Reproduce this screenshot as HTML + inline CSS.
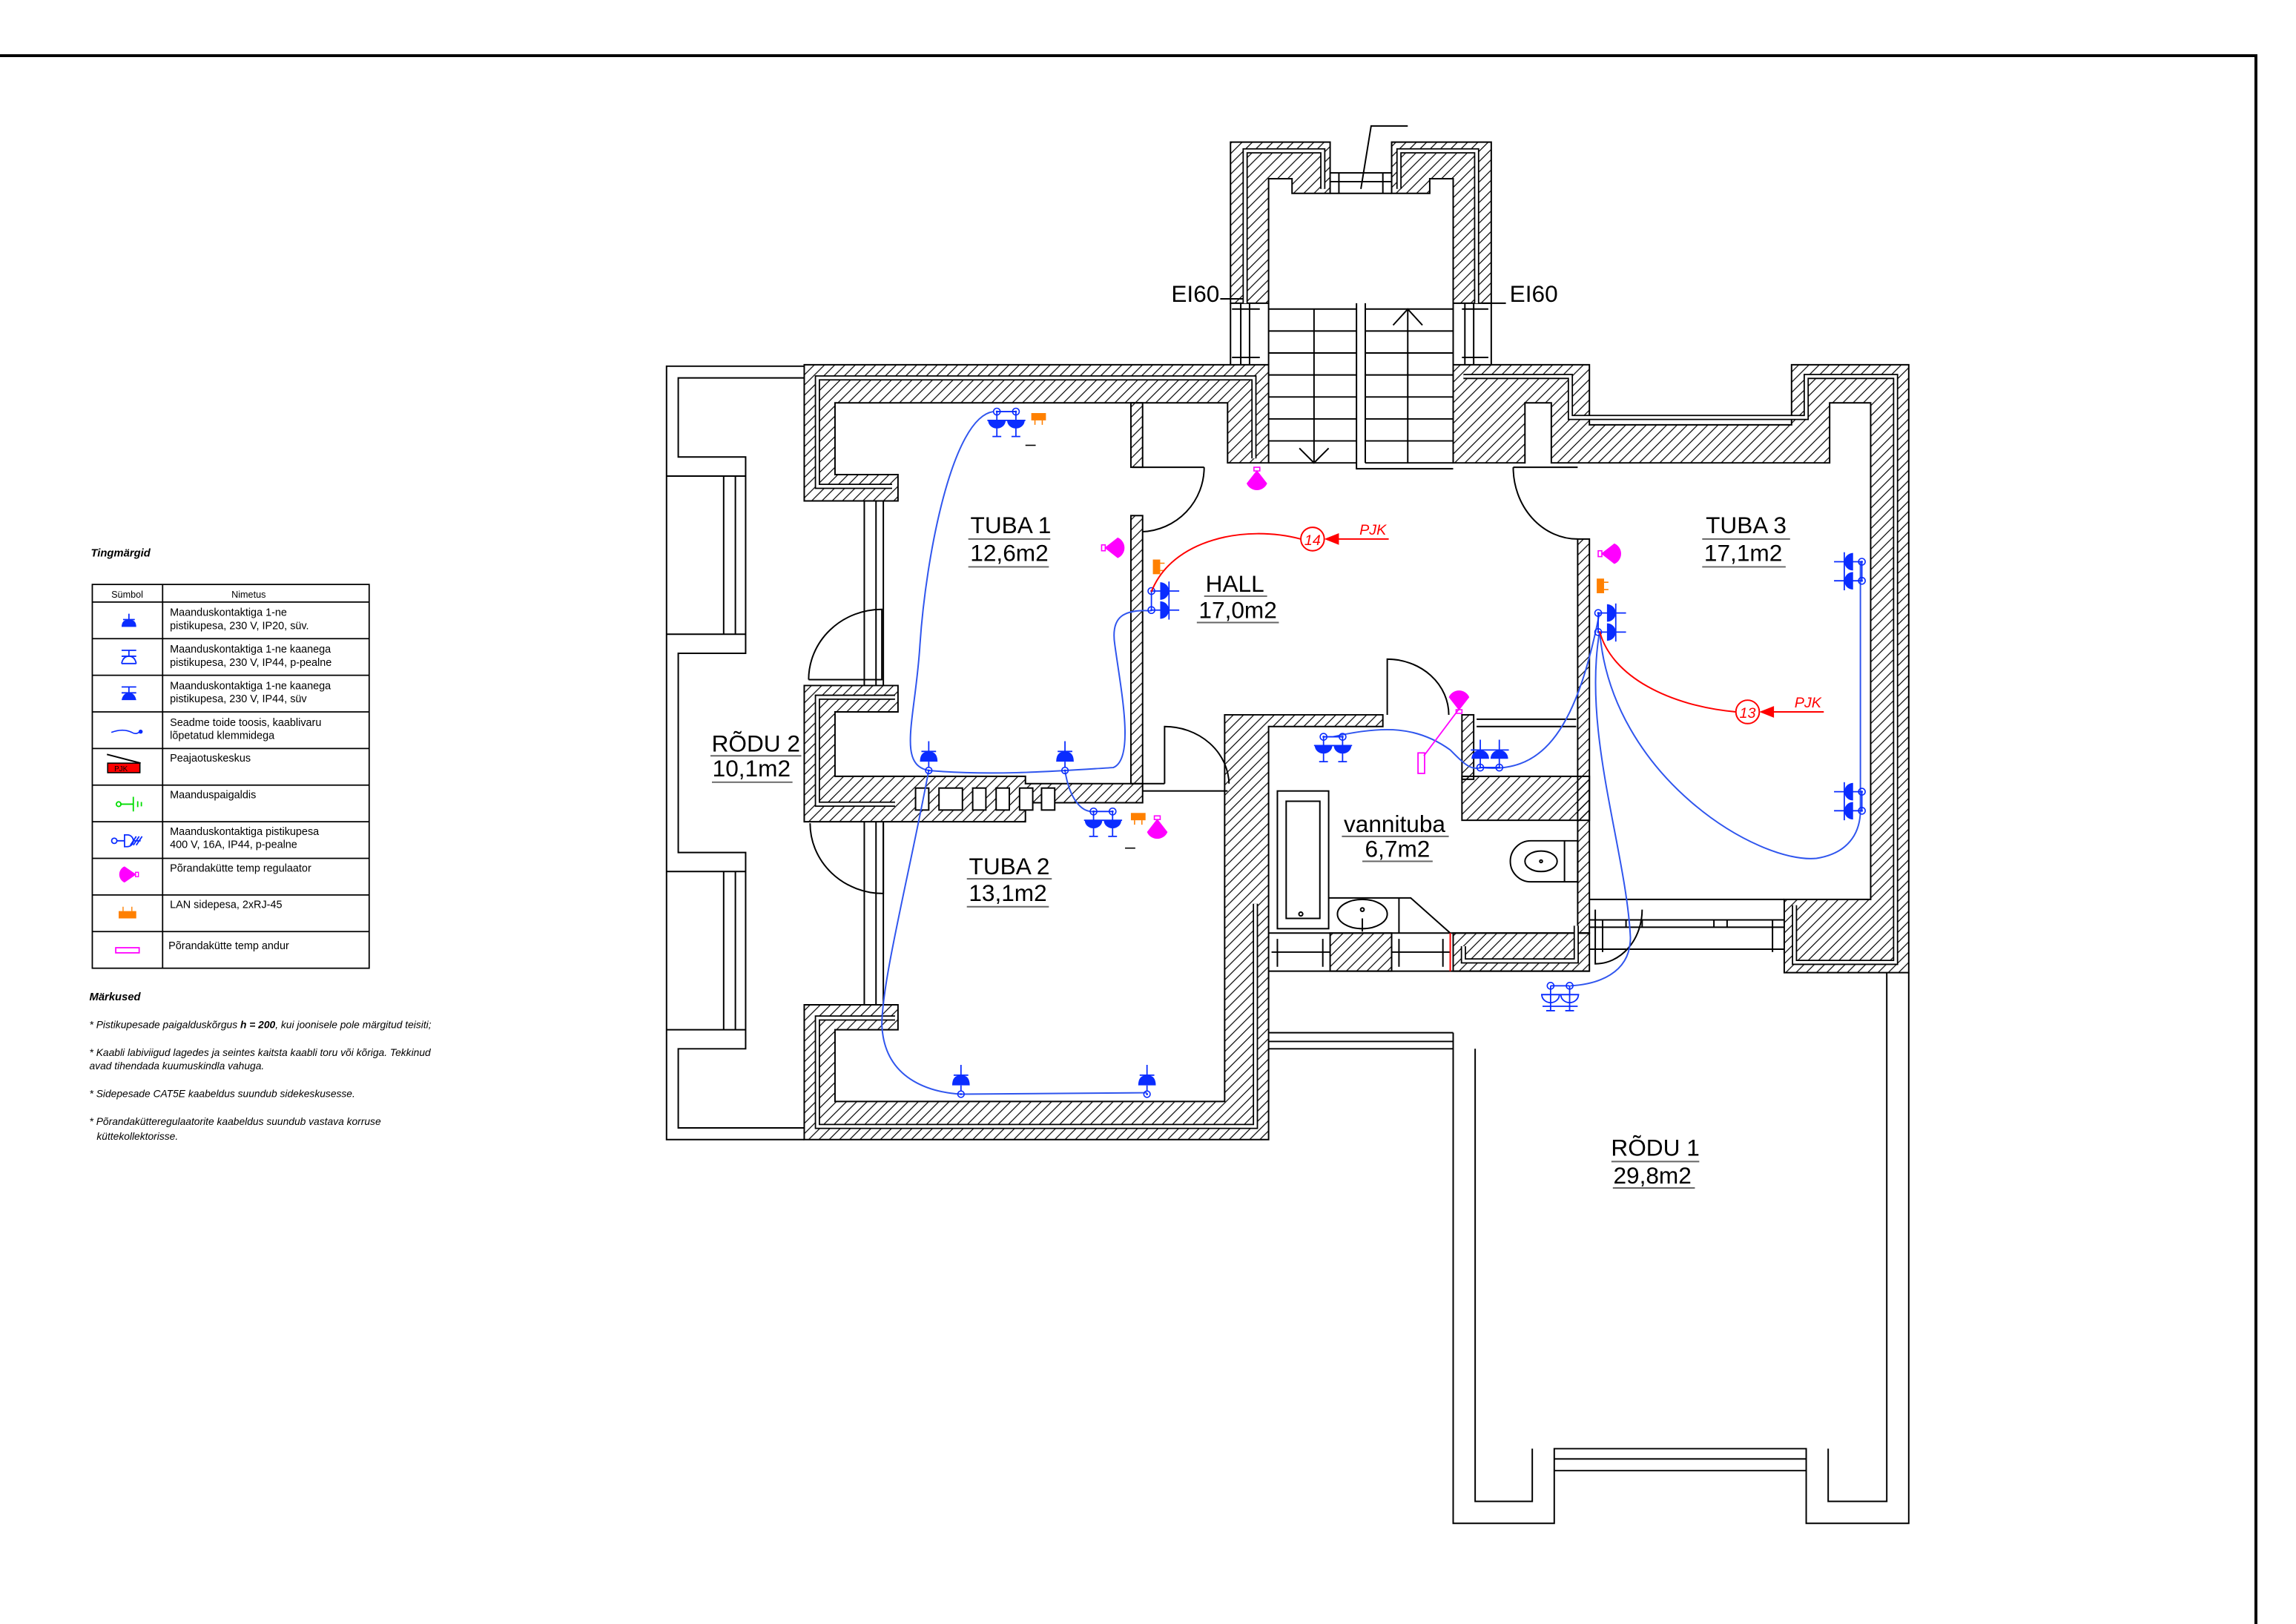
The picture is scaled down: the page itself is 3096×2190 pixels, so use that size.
<!DOCTYPE html>
<html><head><meta charset="utf-8"><style>
html,body{margin:0;padding:0;background:#fff;}
svg{display:block;}
text{font-family:"Liberation Sans",sans-serif;}
</style></head><body>
<svg width="3096" height="2190" viewBox="0 0 1567.35 1108.7" xmlns="http://www.w3.org/2000/svg">
<defs>
<pattern id="h" patternUnits="userSpaceOnUse" width="7" height="7">
<path d="M-1,1 l2,-2 M0,7 l7,-7 M6,8 l2,-2" stroke="#000" stroke-width="0.6"/>
</pattern>
<g id="ds">
<line x1="-6.5" y1="-9" x2="6.5" y2="-9" stroke="#0a2cff" stroke-width="0.9"/>
<circle cx="-6.5" cy="-9" r="2.3" fill="none" stroke="#0a2cff" stroke-width="0.8"/>
<circle cx="6.5" cy="-9" r="2.3" fill="none" stroke="#0a2cff" stroke-width="0.8"/>
<circle cx="-6.5" cy="-9" r="0.7" fill="#0a2cff"/><circle cx="6.5" cy="-9" r="0.7" fill="#0a2cff"/>
<line x1="-13" y1="-3" x2="13" y2="-3" stroke="#0a2cff" stroke-width="0.9"/>
<path d="M-12.5,-3 A6,5.5 0 0 0 -0.5,-3 Z M0.5,-3 A6,5.5 0 0 0 12.5,-3 Z" fill="#0a2cff"/>
<path d="M-6.5,-9 V8 M6.5,-9 V8 M-9.5,8 H-3.5 M3.5,8 H9.5" stroke="#0a2cff" stroke-width="0.9"/>
</g>
<g id="dso">
<line x1="-6.5" y1="-9" x2="6.5" y2="-9" stroke="#0a2cff" stroke-width="0.9"/>
<circle cx="-6.5" cy="-9" r="2.3" fill="none" stroke="#0a2cff" stroke-width="0.8"/>
<circle cx="6.5" cy="-9" r="2.3" fill="none" stroke="#0a2cff" stroke-width="0.8"/>
<line x1="-13" y1="-3" x2="13" y2="-3" stroke="#0a2cff" stroke-width="0.9"/>
<path d="M-12.5,-3 A6,5.5 0 0 0 -0.5,-3 Z M0.5,-3 A6,5.5 0 0 0 12.5,-3 Z" fill="none" stroke="#0a2cff" stroke-width="0.9"/>
<path d="M-6.5,-9 V8 M6.5,-9 V8 M-9.5,8 H-3.5 M3.5,8 H9.5 M-12,5 H12" stroke="#0a2cff" stroke-width="0.9"/>
</g>
<g id="dd">
<line x1="-6.5" y1="9" x2="6.5" y2="9" stroke="#0a2cff" stroke-width="0.9"/>
<circle cx="-6.5" cy="9" r="2.3" fill="none" stroke="#0a2cff" stroke-width="0.8"/>
<circle cx="6.5" cy="9" r="2.3" fill="none" stroke="#0a2cff" stroke-width="0.8"/>
<circle cx="-6.5" cy="9" r="0.7" fill="#0a2cff"/><circle cx="6.5" cy="9" r="0.7" fill="#0a2cff"/>
<line x1="-13" y1="-3" x2="13" y2="-3" stroke="#0a2cff" stroke-width="0.9"/>
<path d="M-12.5,3 A6,6 0 0 1 -0.5,3 Z M0.5,3 A6,6 0 0 1 12.5,3 Z" fill="#0a2cff"/>
<path d="M-6.5,9 V-10 M6.5,9 V-10" stroke="#0a2cff" stroke-width="0.9"/>
</g>
<g id="ss">
<path d="M0,-11 V-4 M-5,-4 H5" stroke="#0a2cff" stroke-width="0.9"/>
<path d="M-6,3 Q-6,-4 0,-4 Q6,-4 6,3 Z" fill="#0a2cff"/>
<line x1="0" y1="3" x2="0" y2="7" stroke="#0a2cff" stroke-width="0.9"/>
<circle cx="0" cy="9" r="2.2" fill="none" stroke="#0a2cff" stroke-width="0.8"/>
<circle cx="0" cy="9" r="0.7" fill="#0a2cff"/>
</g>
<g id="mg">
<path d="M0,8 L-7,-1 A7.6,7.6 0 0 1 7,-1 Z" fill="#ff00ff"/>
<rect x="-2" y="7.5" width="4" height="2.5" fill="none" stroke="#ff00ff" stroke-width="0.8"/>
</g>
<g id="lan">
<rect x="-5" y="-3" width="10" height="5" fill="#ff8000"/>
<path d="M-2.5,2 V5 M2.5,2 V5" stroke="#ff8000" stroke-width="0.8"/>
</g>
</defs>

<path d="M0,38 H1540 V1109" fill="none" stroke="#000" stroke-width="2"/>

<text x="62" y="380" font-size="7.5" font-weight="bold" font-style="italic">Tingmärgid</text>
<g stroke="#000" stroke-width="0.9" fill="none">
<rect x="63" y="399" width="189" height="262"/>
<line x1="111" y1="399" x2="111" y2="661"/>
<path d="M63,411 H252 M63,436 H252 M63,461 H252 M63,486 H252 M63,511 H252 M63,536 H252 M63,561 H252 M63,586 H252 M63,611 H252 M63,636 H252"/>
</g>
<g font-size="6.4">
<text x="76" y="408">Sümbol</text><text x="158" y="408">Nimetus</text>
<text x="116" y="420.5" font-size="7.3">Maanduskontaktiga 1-ne</text><text x="116" y="429.5" font-size="7.3">pistikupesa, 230 V, IP20, süv.</text>
<text x="116" y="445.5" font-size="7.3">Maanduskontaktiga 1-ne kaanega</text><text x="116" y="454.5" font-size="7.3">pistikupesa, 230 V, IP44, p-pealne</text>
<text x="116" y="470.5" font-size="7.3">Maanduskontaktiga 1-ne kaanega</text><text x="116" y="479.5" font-size="7.3">pistikupesa, 230 V, IP44, süv</text>
<text x="116" y="495.5" font-size="7.3">Seadme toide toosis, kaablivaru</text><text x="116" y="504.5" font-size="7.3">lõpetatud klemmidega</text>
<text x="116" y="520" font-size="7.3">Peajaotuskeskus</text>
<text x="116" y="545" font-size="7.3">Maanduspaigaldis</text>
<text x="116" y="570" font-size="7.3">Maanduskontaktiga pistikupesa</text><text x="116" y="579" font-size="7.3">400 V, 16A, IP44, p-pealne</text>
<text x="116" y="595" font-size="7.3">Põrandakütte temp regulaator</text>
<text x="116" y="620" font-size="7.3">LAN sidepesa, 2xRJ-45</text>
<text x="115" y="648" font-size="7.3">Põrandakütte temp andur</text>
</g>
<g transform="translate(88,425)"><path d="M0,-6 V-2 M-4,-2 H4" stroke="#0a2cff" stroke-width="0.9"/><path d="M-5,3 Q-5,-2 0,-2 Q5,-2 5,3 Z" fill="#0a2cff"/></g>
<g transform="translate(88,449)" stroke="#0a2cff" stroke-width="0.9" fill="none"><path d="M-5,-5 H5 M0,-5 V-1 M-5,-1 H5 M-5,4 H5"/><path d="M-5,4 Q-4,-1 0,-1 Q4,-1 5,4"/></g>
<g transform="translate(88,474)"><path d="M-5,-5 H5 M0,-5 V-1 M-5,-1 H5" stroke="#0a2cff" stroke-width="0.9"/><path d="M-5,4 Q-4,-1 0,-1 Q4,-1 5,4 Z" fill="#0a2cff"/></g>
<path d="M76,500 Q84,497 90,500 Q93,502 96,499" fill="none" stroke="#0a2cff" stroke-width="0.8"/><circle cx="96" cy="499.5" r="1.4" fill="#0a2cff"/>
<line x1="73" y1="515" x2="96" y2="521" stroke="#000" stroke-width="1"/>
<rect x="73.5" y="521" width="22" height="6.5" fill="#f00" stroke="#000" stroke-width="0.8"/>
<text x="78" y="526.5" font-size="5">PJK</text>
<g stroke="#00dd00" stroke-width="0.9" fill="none"><circle cx="81" cy="549" r="1.6"/><path d="M82,549 H91 M91,544 V554 M94,547 V551 M96.5,547.5 V550.5"/></g>
<g stroke="#0a2cff" stroke-width="0.9" fill="none"><circle cx="78" cy="574" r="1.8"/><path d="M80,574 H85 M85,570 V578 H87 A4,4 0 0 0 87,570 Z M91,574 H96 M89,577 L93,571 M91,577 L95,571 M93,577 L97,571"/></g>
<g transform="translate(86,597) rotate(-90)"><path d="M0,7 L-5.5,-1 A6,6 0 0 1 5.5,-1 Z" fill="#ff00ff"/><rect x="-1.5" y="6.5" width="3" height="2" fill="none" stroke="#ff00ff" stroke-width="0.7"/></g>
<rect x="81" y="622" width="12" height="5" fill="#ff8000"/><path d="M84,619 V622 M90,619 V622" stroke="#ff8000" stroke-width="0.7"/>
<rect x="79" y="647" width="16" height="3.5" fill="none" stroke="#ff00ff" stroke-width="0.9"/>

<g font-size="7" font-style="italic">
<text x="61" y="683" font-weight="bold" font-size="7.5">Märkused</text>
<text x="61" y="702">* Pistikupesade paigalduskõrgus  <tspan font-weight="bold">h = 200</tspan>, kui joonisele pole märgitud teisiti;</text>
<text x="61" y="721">* Kaabli labiviigud lagedes ja seintes kaitsta kaabli toru või kõriga. Tekkinud</text>
<text x="61" y="730">avad tihendada kuumuskindla vahuga.</text>
<text x="61" y="749">* Sidepesade CAT5E kaabeldus suundub sidekeskusesse.</text>
<text x="61" y="768">* Põrandakütteregulaatorite kaabeldus suundub vastava korruse</text>
<text x="66" y="778">küttekollektorisse.</text>
</g>

<g fill="none" stroke="#000" stroke-width="1">
<path d="M549,250 H455 V778 H549"/>
<path d="M549,258 H463 V312 H509 V446 H463 V582 H509 V716 H463 V770 H549"/>
<path d="M455,325 H509 M455,433 H509 M494,325 V433 M502,325 V433 M455,595 H509 M455,703 H509 M494,595 V703 M502,595 V703"/>
<path d="M590,342 V468 M598,342 V468 M603,342 V468 M590,561 V686 M598,561 V686 M603,561 V686"/>
<path d="M866,705 H992 M866,711 H992 M866,716 H992"/>
<path d="M992,705 V1040 H1061 V989 H1233 V1040 H1303 V664"/>
<path d="M1007,716 V1025 H1046 V989 M1248,989 V1025 H1288 V664"/>
<path d="M1061,996 H1233 M1061,1004 H1233"/>
<path d="M780,540 H838 M780,535 H795"/>
<path d="M1085,614 H1218 M1085,628 H1218 M1085,633 H1218 M1085,648 H1218 M1094,628 V650 M1110,628 V633 M1121,628 V633 M1170,628 V633 M1179,628 V633 M1210,628 V650"/>
<path d="M866,211 H926 M866,226 H926 M866,241 H926 M866,256 H926 M866,271 H926 M866,286 H926 M866,301 H926 M866,316 H926"/>
<path d="M932,211 H992 M932,226 H992 M932,241 H992 M932,256 H992 M932,271 H992 M932,286 H992 M932,301 H992 M932,316 H992"/>
<path d="M897,211 V316 M961,211 V316 M926,207 V320 H992 M932,207 V316"/>
<path d="M887,306 L897,316 L907,306 M951,222 L961,211 L971,222"/>
<path d="M840,207 V249 M866,207 V249 M992,207 V249 M1018,207 V249 M847,207 V249 M853,207 V249 M1000,207 V249 M1006,207 V249"/>
<path d="M841,211 H860 M841,244 H860 M998,211 H1016 M998,244 H1016"/>
<path d="M908,118 H950 M908,124 H950 M914,118 V132 M944,118 V132 M908,132 H950"/>
<path d="M929,129 L936,86 H961"/>
<path d="M833,204 H849 M1012,207 H1028"/>
<path d="M822,319 A44,44 0 0 1 780,363 M773,319 H822"/>
<path d="M1033,319 A44,49 0 0 0 1077,368 M1033,319 H1077"/>
<path d="M552,464 A50,48 0 0 1 602,416 V464 H552"/>
<path d="M553,562 A50,48 0 0 0 603,610 V562"/>
<path d="M947,488 V450 A42,38 0 0 1 989,488"/>
<path d="M795,535 V496 A44,40 0 0 1 839,535"/>
<path d="M1121,621 A32,37 0 0 1 1089,658 V621"/>
<rect x="872" y="540" width="35" height="94"/><rect x="878" y="547" width="23" height="80"/>
<circle cx="888" cy="624" r="1.3"/>
<path d="M907,613 H955 V637 M955,613 H963 L990,637"/>
<ellipse cx="930" cy="624" rx="17" ry="10"/><circle cx="930" cy="621" r="1.2"/><path d="M930,627 V636"/>
<path d="M1045,574 H1077 V602 H1045 A14,14 0 0 1 1045,574 Z M1068,574 V602"/><ellipse cx="1052" cy="588" rx="11" ry="7"/><circle cx="1052" cy="588" r="0.9"/>
<path d="M866,637 H1085 M866,663 H1085 M868,650 H908 M950,650 H990 M872,641 V660 M903,641 V660 M955,641 V660 M985,641 V660"/>
<path d="M1008,496 H1076 M1008,491 H1076"/>
</g>
<line x1="990" y1="637" x2="990" y2="663" stroke="#f00" stroke-width="1"/>

<g fill="url(#h)" stroke="#000" stroke-width="1">
<path d="M549,249 H866 V316 H838 V275 H570 V324 H613 V342 H549 Z"/>
<path d="M549,468 H613 V486 H570 V530 H700 V535 H780 V548 H700 V561 H549 Z"/>
<rect x="772" y="275" width="8" height="44"/>
<rect x="772" y="352" width="8" height="183"/>
<path d="M549,686 H613 V703 H570 V752 H836 V488 H944 V496 H866 V778 H549 Z"/>
<rect x="998" y="488" width="8" height="44"/>
<rect x="998" y="530" width="87" height="30"/>
<rect x="908" y="637" width="42" height="26"/>
<path d="M992,637 H1085 V663 H992 Z"/>
<rect x="1077" y="368" width="8" height="269"/>
<path d="M992,249 H1085 V290 H1223 V249 H1303 V664 H1218 V614 H1277 V275 H1249 V316 H1059 V275 H1041 V316 H992 Z"/>
<path d="M840,97 H908 V132 H882 V122 H866 V207 H840 Z"/>
<path d="M950,97 H1018 V207 H992 V122 H976 V132 H950 Z"/>
</g>
<g fill="#fff" stroke="#000" stroke-width="1">
<rect x="625" y="538" width="9" height="15"/><rect x="641" y="538" width="16" height="15"/><rect x="664" y="538" width="9" height="15"/><rect x="680" y="538" width="9" height="15"/><rect x="696" y="538" width="9" height="15"/><rect x="711" y="538" width="9" height="15"/>
</g>
<g fill="none">
<g stroke="#000" stroke-width="3.6">
<path d="M609,332 H558 V258 H856 V313"/>
<path d="M611,476 H558 V549 H611"/>
<path d="M611,695 H558 V769 H857 V617"/>
<path d="M999,257 H1072 V285 H1233 V257 H1294 V657 H1225 V618"/>
<path d="M999,646 V656 H1076 V632"/>
<path d="M850,207 V103 H903 V129 M1008,207 V103 H955 V129"/>
</g>
<g stroke="#fff" stroke-width="1.8">
<path d="M609,332 H558 V258 H856 V313"/>
<path d="M611,476 H558 V549 H611"/>
<path d="M611,695 H558 V769 H857 V617"/>
<path d="M999,257 H1072 V285 H1233 V257 H1294 V657 H1225 V618"/>
<path d="M999,646 V656 H1076 V632"/>
<path d="M850,207 V103 H903 V129 M1008,207 V103 H955 V129"/>
</g>
</g>

<g fill="none" stroke="#2f55ee" stroke-width="1">
<path d="M678,281 C650,285 632,380 628,440 C625,490 612,522 634,526 C680,530 727,526 760,524 C775,518 765,470 761,440 C758,420 768,416 786,417"/>
<path d="M634,526 C620,600 602,670 602,700 C604,740 640,746 656,747 L783,746"/>
<path d="M727,526 C730,545 738,555 747,554"/>
<path d="M910,503 C945,495 968,496 990,512 C1000,522 1004,526 1011,524 C1050,528 1075,505 1092,418"/>
<path d="M1092,431 C1080,500 1110,580 1113,640 C1113,665 1090,672 1072,673"/>
<path d="M1092,431 C1100,530 1200,590 1240,586 C1265,582 1270,565 1270,553 L1270,383"/>
<line x1="1011" y1="524" x2="1024" y2="524"/>
</g>
<line x1="972" y1="516" x2="996" y2="484" stroke="#ff00ff" stroke-width="0.9"/>
<rect x="968" y="514" width="4.5" height="14" fill="none" stroke="#ff00ff" stroke-width="0.9"/>

<use href="#ds" transform="translate(687,290)"/>
<use href="#lan" transform="translate(709,285)"/>
<line x1="700" y1="304" x2="707" y2="304" stroke="#000" stroke-width="0.8"/>
<use href="#ss" transform="translate(634,517)"/>
<use href="#ss" transform="translate(727,517)"/>
<use href="#ds" transform="translate(753,563)"/>
<use href="#lan" transform="translate(777,558)"/>
<use href="#mg" transform="translate(790,567) rotate(180)"/>
<line x1="768" y1="579" x2="775" y2="579" stroke="#000" stroke-width="0.8"/>
<use href="#ss" transform="translate(656,738)"/>
<use href="#ss" transform="translate(783,738)"/>
<use href="#dd" transform="translate(795,410) rotate(90)"/>
<use href="#lan" transform="translate(790,387) rotate(-90)"/>
<use href="#mg" transform="translate(762,374) rotate(90)"/>
<use href="#mg" transform="translate(858,329) rotate(180)"/>
<use href="#ds" transform="translate(910,512)"/>
<use href="#mg" transform="translate(996,477)"/>
<use href="#dd" transform="translate(1017,515)"/>
<use href="#dd" transform="translate(1100,425) rotate(90)"/>
<use href="#lan" transform="translate(1093,400) rotate(-90)"/>
<use href="#mg" transform="translate(1101,378) rotate(90)"/>
<use href="#dd" transform="translate(1262,390) rotate(-90)"/>
<use href="#dd" transform="translate(1262,547) rotate(-90)"/>
<use href="#dso" transform="translate(1065,682)"/>

<g stroke="#f00" stroke-width="1" fill="none">
<circle cx="896" cy="368" r="8"/>
<path d="M888,368 C850,358 800,368 786,404"/>
<path d="M912,368 H948"/>
<circle cx="1193" cy="486" r="8"/>
<path d="M1185,486 C1140,482 1100,462 1092,431"/>
<path d="M1209,486 H1245"/>
</g>
<path d="M904,368 L914,364 L914,372 Z M1201,486 L1211,482 L1211,490 Z" fill="#f00"/>
<g fill="#f00" font-style="italic" font-size="10">
<text x="896" y="372" text-anchor="middle">14</text>
<text x="1193" y="490" text-anchor="middle">13</text>
<text x="928" y="365">PJK</text>
<text x="1225" y="483">PJK</text>
</g>

<g font-size="16" text-anchor="middle">
<text x="690" y="364">TUBA 1</text><text x="689" y="383">12,6m2</text>
<text x="843" y="404">HALL</text><text x="845" y="422">17,0m2</text>
<text x="1192" y="364">TUBA 3</text><text x="1190" y="383">17,1m2</text>
<text x="516" y="513">RÕDU 2</text><text x="513" y="530">10,1m2</text>
<text x="689" y="597">TUBA 2</text><text x="688" y="615">13,1m2</text>
<text x="952" y="568">vannituba</text><text x="954" y="585">6,7m2</text>
<text x="1130" y="789">RÕDU 1</text><text x="1128" y="808">29,8m2</text>
<text x="816" y="206">EI60</text><text x="1047" y="206">EI60</text>
</g>
<g stroke="#666" stroke-width="1">
<path d="M661,368 H717 M661,387 H716 M822,407 H865 M817,425 H873 M1162,368 H1222 M1162,387 H1219 M485,516 H547 M486,534 H541 M660,600 H718 M660,619 H716 M916,571 H989 M930,588 H978 M1100,793 H1160 M1101,811 H1157"/>
</g>
</svg>
</body></html>
